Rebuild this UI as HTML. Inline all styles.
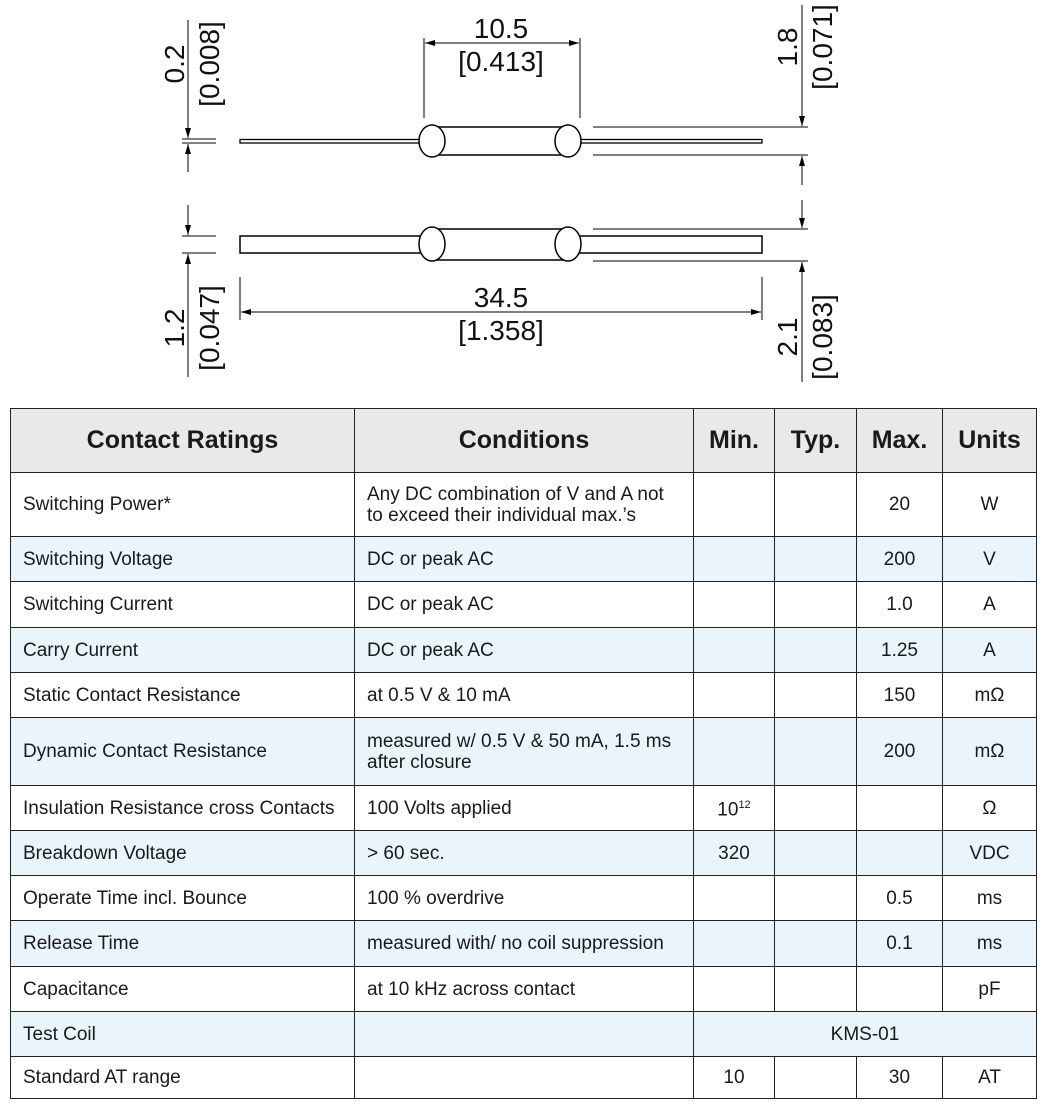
<!DOCTYPE html>
<html><head><meta charset="utf-8"><style>
body{margin:0;width:1053px;height:1106px;background:#fff;position:relative;font-family:"Liberation Sans",Arial,sans-serif;overflow:hidden}
svg{position:absolute;left:0;top:0}
table{position:absolute;left:10px;top:408px;width:1026px;border-collapse:collapse;font-size:19px;color:#1a1a1a;table-layout:fixed}
td,th{border:1.5px solid #222;padding:0 0 0 12px;text-align:left;line-height:21px}
th{background:#e9e9e9;font-size:25px;font-weight:bold;height:63px;text-align:center;padding:0}
td.c{text-align:center;padding:0}
tr.s td{background:#e9f4fb}
</style></head><body>
<svg width="1053" height="400" font-family="Liberation Sans, Arial, sans-serif" fill="none" stroke="#000">
<defs><marker id="a" markerWidth="10" markerHeight="6" refX="10" refY="3" orient="auto" markerUnits="userSpaceOnUse"><path d="M0,0L10,3L0,6z" fill="#000" stroke="none"/></marker></defs>
<rect x="240" y="139.5" width="522" height="3.5" stroke-width="1.3" fill="#fff"/>
<rect x="436" y="127" width="128" height="28" stroke-width="1.5" fill="#fff"/>
<ellipse cx="432" cy="141" rx="13" ry="16" stroke-width="1.5" fill="#fff"/>
<ellipse cx="568" cy="141" rx="13" ry="16" stroke-width="1.5" fill="#fff"/>
<rect x="240" y="236" width="522" height="17" stroke-width="1.5" fill="#fff"/>
<rect x="436" y="229" width="128" height="31" stroke-width="1.5" fill="#fff"/>
<ellipse cx="432" cy="244" rx="13" ry="17" stroke-width="1.5" fill="#fff"/>
<ellipse cx="568" cy="244" rx="13" ry="17" stroke-width="1.5" fill="#fff"/>
<g stroke-width="1">
<line x1="424" y1="38" x2="424" y2="118"/><line x1="580" y1="38" x2="580" y2="118"/>
<line x1="500" y1="43" x2="425" y2="43" marker-end="url(#a)"/><line x1="500" y1="43" x2="579" y2="43" marker-end="url(#a)"/>
<line x1="240" y1="277" x2="240" y2="320"/><line x1="762" y1="277" x2="762" y2="320"/>
<line x1="500" y1="312" x2="241" y2="312" marker-end="url(#a)"/><line x1="500" y1="312" x2="761" y2="312" marker-end="url(#a)"/>
<line x1="182" y1="139" x2="216" y2="139"/><line x1="182" y1="143" x2="216" y2="143"/>
<line x1="188" y1="20" x2="188" y2="138" marker-end="url(#a)"/><line x1="188" y1="172" x2="188" y2="144" marker-end="url(#a)"/>
<line x1="182" y1="236" x2="216" y2="236"/><line x1="182" y1="253" x2="216" y2="253"/>
<line x1="188" y1="205" x2="188" y2="235" marker-end="url(#a)"/><line x1="188" y1="377" x2="188" y2="254" marker-end="url(#a)"/>
<line x1="593" y1="127" x2="808" y2="127"/><line x1="593" y1="155" x2="808" y2="155"/>
<line x1="802" y1="5" x2="802" y2="126" marker-end="url(#a)"/><line x1="802" y1="185" x2="802" y2="156" marker-end="url(#a)"/>
<line x1="593" y1="229" x2="808" y2="229"/><line x1="593" y1="261" x2="808" y2="261"/>
<line x1="802" y1="200" x2="802" y2="228" marker-end="url(#a)"/><line x1="802" y1="382" x2="802" y2="262" marker-end="url(#a)"/>
</g>
<g fill="#111" stroke="none" font-size="28" text-anchor="middle">
<text x="501" y="38">10.5</text><text x="501" y="71">[0.413]</text>
<text x="501" y="307">34.5</text><text x="501" y="340">[1.358]</text>
<text transform="translate(184,64) rotate(-90)">0.2</text>
<text transform="translate(219,64) rotate(-90)">[0.008]</text>
<text transform="translate(184,328) rotate(-90)">1.2</text>
<text transform="translate(219,328) rotate(-90)">[0.047]</text>
<text transform="translate(797,47) rotate(-90)">1.8</text>
<text transform="translate(832,47) rotate(-90)">[0.071]</text>
<text transform="translate(797,337) rotate(-90)">2.1</text>
<text transform="translate(832,337) rotate(-90)">[0.083]</text>
</g>
</svg>
<table>
<colgroup><col style="width:344px"><col style="width:339px"><col style="width:81px"><col style="width:82px"><col style="width:86px"><col style="width:94px"></colgroup>
<tr><th>Contact Ratings</th><th>Conditions</th><th>Min.</th><th>Typ.</th><th>Max.</th><th>Units</th></tr>
<tr style="height:64px"><td>Switching Power*</td><td>Any DC combination of V and A not<br>to exceed their individual max.’s</td><td></td><td></td><td class="c">20</td><td class="c">W</td></tr>
<tr class="s" style="height:45px"><td>Switching Voltage</td><td>DC or peak AC</td><td></td><td></td><td class="c">200</td><td class="c">V</td></tr>
<tr style="height:46px"><td>Switching Current</td><td>DC or peak AC</td><td></td><td></td><td class="c">1.0</td><td class="c">A</td></tr>
<tr class="s" style="height:45px"><td>Carry Current</td><td>DC or peak AC</td><td></td><td></td><td class="c">1.25</td><td class="c">A</td></tr>
<tr style="height:45px"><td>Static Contact Resistance</td><td>at 0.5 V &amp; 10 mA</td><td></td><td></td><td class="c">150</td><td class="c">mΩ</td></tr>
<tr class="s" style="height:68px"><td>Dynamic Contact Resistance</td><td>measured w/ 0.5 V &amp; 50 mA, 1.5 ms<br>after closure</td><td></td><td></td><td class="c">200</td><td class="c">mΩ</td></tr>
<tr style="height:45px"><td>Insulation Resistance cross Contacts</td><td>100 Volts applied</td><td class="c">10<sup style="font-size:11px">12</sup></td><td></td><td></td><td class="c">Ω</td></tr>
<tr class="s" style="height:45px"><td>Breakdown Voltage</td><td>&gt; 60 sec.</td><td class="c">320</td><td></td><td></td><td class="c">VDC</td></tr>
<tr style="height:45px"><td>Operate Time incl. Bounce</td><td>100 % overdrive</td><td></td><td></td><td class="c">0.5</td><td class="c">ms</td></tr>
<tr class="s" style="height:46px"><td>Release Time</td><td>measured with/ no coil suppression</td><td></td><td></td><td class="c">0.1</td><td class="c">ms</td></tr>
<tr style="height:45px"><td>Capacitance</td><td>at 10 kHz across contact</td><td></td><td></td><td></td><td class="c">pF</td></tr>
<tr class="s" style="height:45px"><td>Test Coil</td><td></td><td class="c" colspan="4">KMS-01</td></tr>
<tr style="height:42px"><td>Standard AT range</td><td></td><td class="c">10</td><td></td><td class="c">30</td><td class="c">AT</td></tr>
</table>
</body></html>
